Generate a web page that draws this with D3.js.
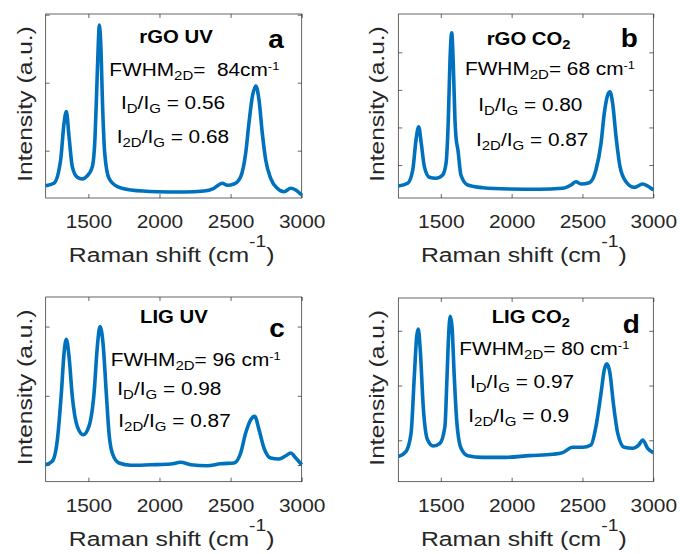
<!DOCTYPE html>
<html>
<head>
<meta charset="utf-8">
<script src="https://cdn.jsdelivr.net/npm/d3@7"></script>
<style>
body { margin: 0; background: #fff; }
svg { display: block; font-family: "Liberation Sans", Arial, sans-serif; }
</style>
</head>
<body>
<svg id="chart" width="680" height="554"></svg>
<script>
// Raman spectra (shift in cm-1, intensity in counts)
var shiftA = [1200,1258,1305,1329,1345,1364,1387,1422,1457,1492,1528,1547,1558,1570,1577,1587,1601,1615,1645,1704,1798,1985,2172,2313,2383,2442,2477,2524,2571,2606,2629,2653,2677,2700,2723,2747,2782,2828,2876,2923,2958,3000];
var intensityA = [485,521,863,1403,1574,1206,765,609,584,628,765,1206,1844,2579,2849,2579,1599,962,594,471,422,397,393,407,447,521,491,510,618,962,1403,1794,1951,1746,1256,863,594,447,397,447,422,349];

var shiftB = [1200,1266,1302,1325,1344,1362,1384,1419,1466,1513,1537,1553,1565,1577,1588,1600,1607,1621,1642,1690,1796,1984,2195,2360,2419,2454,2490,2548,2595,2631,2654,2678,2694,2713,2737,2765,2807,2866,2925,2960,3000];
var intensityB = [441,513,867,1666,2020,1578,955,673,646,734,1045,2198,3795,4522,3707,2198,1753,1399,734,468,396,361,353,380,468,555,494,529,867,1578,2376,2863,2951,2642,1753,955,555,406,494,441,335];

var shiftC = [1200,1246,1282,1310,1329,1345,1364,1387,1422,1464,1504,1540,1563,1582,1603,1626,1645,1668,1715,1798,1938,2079,2149,2220,2336,2430,2524,2571,2606,2641,2670,2700,2735,2782,2840,2888,2923,2958,3000];
var intensityC = [1004,1053,1365,2038,2615,2817,2567,1991,1558,1437,1558,2038,2711,3000,2759,2038,1461,1173,1029,996,1004,1014,1039,1004,990,1019,1029,1173,1461,1653,1702,1509,1245,1101,1087,1134,1173,1101,1004];

var shiftD = [1200,1254,1290,1313,1330,1341,1355,1376,1407,1447,1494,1529,1544,1556,1567,1579,1595,1612,1643,1690,1796,1960,2125,2290,2360,2431,2502,2560,2595,2631,2654,2673,2694,2718,2749,2795,2854,2897,2925,2960,3000];
var intensityD = [702,793,1128,2166,2898,3031,2652,1617,1005,896,945,1251,2166,2958,3264,3081,2166,1371,854,720,689,689,720,744,775,872,872,914,1251,1860,2287,2396,2226,1677,1128,872,854,914,1005,854,775];

var xTicks = [1500, 2000, 2500, 3000];
var yTicksA = [1000, 2000, 3000];
var yTicksB = [1000, 2000, 3000, 4000];
var yTicksC = [1000, 2000, 3000];
var yTicksD = [1000, 2000, 3000];

var titles = ["rGO UV", "rGO CO_{2}", "LIG UV", "LIG CO_{2}"];
var letters = ["a", "b", "c", "d"];
var fwhmLabels = ["FWHM_{2D}=\u00a0 84cm^{-1}", "FWHM_{2D}= 68 cm^{-1}", "FWHM_{2D}= 96 cm^{-1}", "FWHM_{2D}= 80 cm^{-1}"];
var idigLabels = ["I_{D}/I_{G} = 0.56", "I_{D}/I_{G} = 0.80", "I_{D}/I_{G} = 0.98", "I_{D}/I_{G} = 0.97"];
var i2digLabels = ["I_{2D}/I_{G} = 0.68", "I_{2D}/I_{G} = 0.87", "I_{2D}/I_{G} = 0.87", "I_{2D}/I_{G} = 0.9"];
var xLabel = "Raman shift (cm^{-1})";
var yLabel = "Intensity (a.u.)";

// layout of the four axes and their annotations
var panels = [
	{ shift: shiftA, inten: intensityA, yTicks: yTicksA, yDomain: [304, 3010],
		box: { x0: 45.7, x1: 301.7, y0: 14, y1: 198 },
		titlePos: [139.3, 43.3], letterPos: [268.3, 48.3], fwhmPos: [109.3, 76], idigPos: [121, 109], i2digPos: [116.7, 143] },
	{ shift: shiftB, inten: intensityB, yTicks: yTicksB, yDomain: [122, 5020],
		box: { x0: 398.3, x1: 653.3, y0: 14, y1: 198 },
		titlePos: [486.7, 45], letterPos: [620.7, 47.3], fwhmPos: [465, 75], idigPos: [478.3, 110.5], i2digPos: [476, 145.5] },
	{ shift: shiftC, inten: intensityC, yTicks: yTicksC, yDomain: [759, 3427],
		box: { x0: 45.7, x1: 301.7, y0: 297, y1: 481.7 },
		titlePos: [140, 323.3], letterPos: [269.3, 336.7], fwhmPos: [110.7, 366], idigPos: [117.3, 395], i2digPos: [118.3, 426.7] },
	{ shift: shiftD, inten: intensityD, yTicks: yTicksD, yDomain: [244, 3599],
		box: { x0: 398.3, x1: 653.3, y0: 298, y1: 481.7 },
		titlePos: [491.7, 323.3], letterPos: [622.7, 333.3], fwhmPos: [459.3, 355], idigPos: [470, 388.3], i2digPos: [468.3, 421.7] }
];

var lineColor = "#0072BD";
var axisColor = "#262626";
var svg = d3.select("#chart");

// text with _{sub} and ^{sup} parts, drawn as tspans
function richText(parent, str, o) {
	var t = parent.append("text")
		.attr("transform", "translate(" + o.x + "," + o.y + ")" + (o.rotate ? " rotate(" + o.rotate + ")" : "") + " scale(" + o.sx + ",1)")
		.attr("font-size", o.size)
		.attr("font-weight", o.bold ? "bold" : "normal")
		.attr("fill", o.fill || "#000")
		.attr("text-anchor", o.anchor || "start")
		.style("white-space", "pre");
	var re = /([_^])\{([^}]*)\}|([^_^]+)/g, m, cur = 0;
	while ((m = re.exec(str)) !== null) {
		var txt, size, off;
		if (m[3] !== undefined) { txt = m[3]; size = o.size; off = 0; }
		else if (m[1] == "_") { txt = m[2]; size = o.size * o.sub[0]; off = o.size * o.sub[1]; }
		else { txt = m[2]; size = o.size * o.sup[0]; off = -o.size * o.sup[1]; }
		t.append("tspan")
			.attr("font-size", size)
			.attr("dy", off - cur)
			.text(txt);
		cur = off;
	}
	return t;
}

panels.forEach(function(p, i) {
	var b = p.box;
	var x = d3.scaleLinear().domain([1200, 3000]).range([b.x0, b.x1]);
	var y = d3.scaleLinear().domain(p.yDomain).range([b.y1, b.y0]);
	var g = svg.append("g");

	// inward ticks on all four sides
	var bottom = g.append("g")
		.attr("transform", "translate(0," + b.y1 + ")")
		.call(d3.axisBottom(x).tickValues(xTicks).tickFormat(d3.format("d")).tickSizeInner(-4).tickSizeOuter(0));
	bottom.selectAll("text")
		.attr("y", 30).attr("dy", null)
		.attr("font-size", 18.5)
		.attr("font-family", "Liberation Sans, Arial, sans-serif")
		.attr("fill", axisColor)
		.attr("transform", "scale(1.13,1)");
	g.append("g")
		.attr("transform", "translate(0," + b.y0 + ")")
		.call(d3.axisTop(x).tickValues(xTicks).tickSizeInner(-4).tickSizeOuter(0).tickFormat(""));
	g.append("g")
		.attr("transform", "translate(" + b.x0 + ",0)")
		.call(d3.axisLeft(y).tickValues(p.yTicks).tickSizeInner(-4).tickSizeOuter(0).tickFormat(""));
	g.append("g")
		.attr("transform", "translate(" + b.x1 + ",0)")
		.call(d3.axisRight(y).tickValues(p.yTicks).tickSizeInner(-4).tickSizeOuter(0).tickFormat(""));
	g.selectAll(".domain").remove();
	g.selectAll(".tick line").attr("stroke", axisColor).attr("stroke-width", 0.7);

	g.append("rect")
		.attr("x", b.x0).attr("y", b.y0)
		.attr("width", b.x1 - b.x0).attr("height", b.y1 - b.y0)
		.attr("fill", "none")
		.attr("stroke", axisColor)
		.attr("stroke-width", 0.7);

	var line = d3.line()
		.x(function(d) { return x(d[0]); })
		.y(function(d) { return y(d[1]); })
		.curve(d3.curveMonotoneX);
	g.append("path")
		.datum(d3.zip(p.shift, p.inten))
		.attr("d", line)
		.attr("fill", "none")
		.attr("stroke", lineColor)
		.attr("stroke-width", 3.6)
		.attr("stroke-linejoin", "round");

	// axis labels
	richText(g, xLabel, { x: (b.x0 + b.x1) / 2 - 2, y: b.y1 + 64, size: 21, sx: 1.18, anchor: "middle",
		fill: axisColor, sub: [0.75, 0.2], sup: [0.78, 0.71] });
	richText(g, yLabel, { x: b.x0 - 14, y: (b.y0 + b.y1) / 2 - 2, size: 21, sx: 1.17, anchor: "middle",
		rotate: -90, fill: axisColor, sub: [0.75, 0.2], sup: [0.75, 0.5] });

	// annotations
	richText(g, titles[i], { x: p.titlePos[0], y: p.titlePos[1], size: 18, sx: 1.13, bold: true,
		sub: [0.72, 0.2], sup: [0.7, 0.4] });
	richText(g, letters[i], { x: p.letterPos[0], y: p.letterPos[1], size: 25, sx: 1.12, bold: true,
		sub: [0.7, 0.2], sup: [0.7, 0.4] });
	[[fwhmLabels[i], p.fwhmPos], [idigLabels[i], p.idigPos], [i2digLabels[i], p.i2digPos]].forEach(function(n) {
		richText(g, n[0], { x: n[1][0], y: n[1][1], size: 18.6, sx: 1.12,
			sub: [0.72, 0.22], sup: [0.62, 0.33] });
	});
});
</script>
</body>
</html>
